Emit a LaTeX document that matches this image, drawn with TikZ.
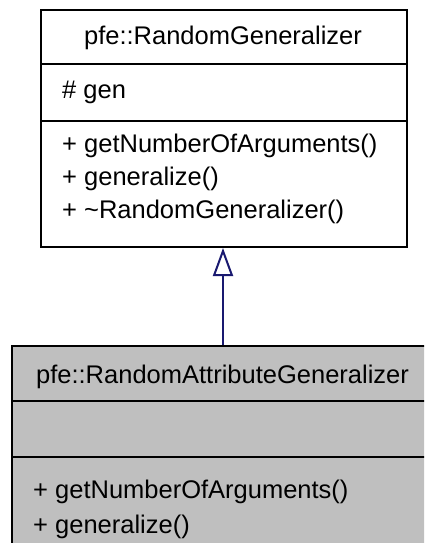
\documentclass[tikz,border=0pt]{standalone}
\usepackage{fontspec}
\setmainfont{Liberation Sans}
\usetikzlibrary{arrows.meta}
\definecolor{edgeblue}{HTML}{191970}
\definecolor{boxgrey}{HTML}{BFBFBF}
\tikzset{
  classbox/.style={draw=black, line width=2pt, rectangle, inner sep=0pt, anchor=north west},
  sepline/.style={draw=black, line width=2pt},
  title/.style={inner sep=0pt, anchor=base, font=\fontsize{25.5}{30}\selectfont},
  member/.style={inner sep=0pt, anchor=base west, font=\fontsize{25.5}{30}\selectfont},
  inherit/.style={draw=edgeblue, line width=2pt, -{Triangle[open, length=28pt, width=20pt, line width=2pt]}}
}
\begin{document}
\begin{tikzpicture}[x=1pt, y=-1pt]
  \useasboundingbox (0,0) rectangle (424,543);
  \clip (0,0) rectangle (424,543);

  % base class
  \node[classbox, minimum width=366pt, minimum height=237pt] (base) at (40,9) {};
  \draw[sepline] (40,64) -- (406,64);
  \draw[sepline] (40,121) -- (406,121);
  \node[title] (basename) at (223,45) {pfe::RandomGeneralizer};
  \node[member] (gen) at (62,98) {\# gen};
  \node[member] (bm1) at (62,152) {+ getNumberOfArguments()};
  \node[member] (bm2) at (62,185) {+ generalize()};
  \node[member] (bm3) at (62,218) {+ \textasciitilde RandomGeneralizer()};

  % derived class
  \node[classbox, fill=boxgrey, minimum width=423pt, minimum height=230pt] (derived) at (11,345) {};
  \draw[sepline] (11,401) -- (434,401);
  \draw[sepline] (11,457) -- (434,457);
  \node[title] (derivedname) at (222.5,383) {pfe::RandomAttributeGeneralizer};
  \node[member] (dm1) at (33,498) {+ getNumberOfArguments()};
  \node[member] (dm2) at (33,533) {+ generalize()};

  % inheritance
  \draw[inherit] (derived.north -| 223,0) -- (base.south -| 223,0);
\end{tikzpicture}
\end{document}
